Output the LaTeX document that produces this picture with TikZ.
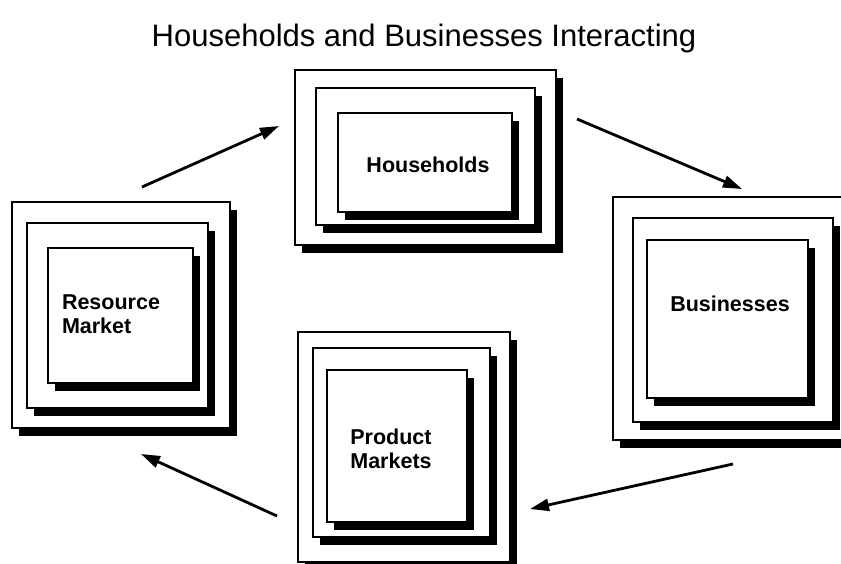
\documentclass[tikz,border=0pt]{standalone}
\usepackage{fontspec}
\setmainfont{Liberation Sans}
\usetikzlibrary{arrows.meta}
\tikzset{
    layer/.style={fill=white,draw=black,line width=1.6pt},
    flow/.style={line width=2.8pt,-{Triangle[length=19pt,width=12pt]}},
    label/.style={font=\bfseries\fontsize{21.5}{24}\selectfont,align=left}
}
% one frame with its drop shadow
\newcommand{\layerbox}[4]{
    \fill (#1+7,#2+8) rectangle (#3+7,#4+8);
    \draw[layer] (#1,#2) rectangle (#3,#4);
}
\begin{document}
\begin{tikzpicture}[x=1pt,y=-1pt]
            \useasboundingbox (0,0) rectangle (841,563);
            \node (title) at (424,38) {\fontsize{31}{34}\selectfont Households and Businesses Interacting};
            % households
            \layerbox{295}{70}{556}{245}
            \layerbox{316}{88}{535}{225}
            \layerbox{338}{113}{512}{212}
            \node[label] (hh) at (428,165) {Households};
            % businesses
            \layerbox{613}{197}{850}{440}
            \layerbox{633}{218}{833}{422}
            \layerbox{647}{240}{808}{398}
            \node[label] (bus) at (730,304) {Businesses};
            % resource market
            \layerbox{12}{202}{230}{428}
            \layerbox{27}{223}{208}{408}
            \layerbox{48}{248}{193}{383}
            \node[label] (res) at (111,314) {Resource\\Market};
            % product markets
            \layerbox{298}{332}{510}{562}
            \layerbox{313}{348}{490}{537}
            \layerbox{327}{370}{467}{522}
            \node[label] (prod) at (391,449) {Product\\Markets};
            % flows
            \draw (142,187) coordinate (A1);
            \draw (279,126) coordinate (A2);
            \draw (577,119) coordinate (B1);
            \draw (742,189) coordinate (B2);
            \draw (733,464) coordinate (C1);
            \draw (530,509) coordinate (C2);
            \draw (277,516) coordinate (D1);
            \draw (141,454) coordinate (D2);
            \draw[flow] (A1) -- (A2);
            \draw[flow] (B1) -- (B2);
            \draw[flow] (C1) -- (C2);
            \draw[flow] (D1) -- (D2);
\end{tikzpicture}
\end{document}
